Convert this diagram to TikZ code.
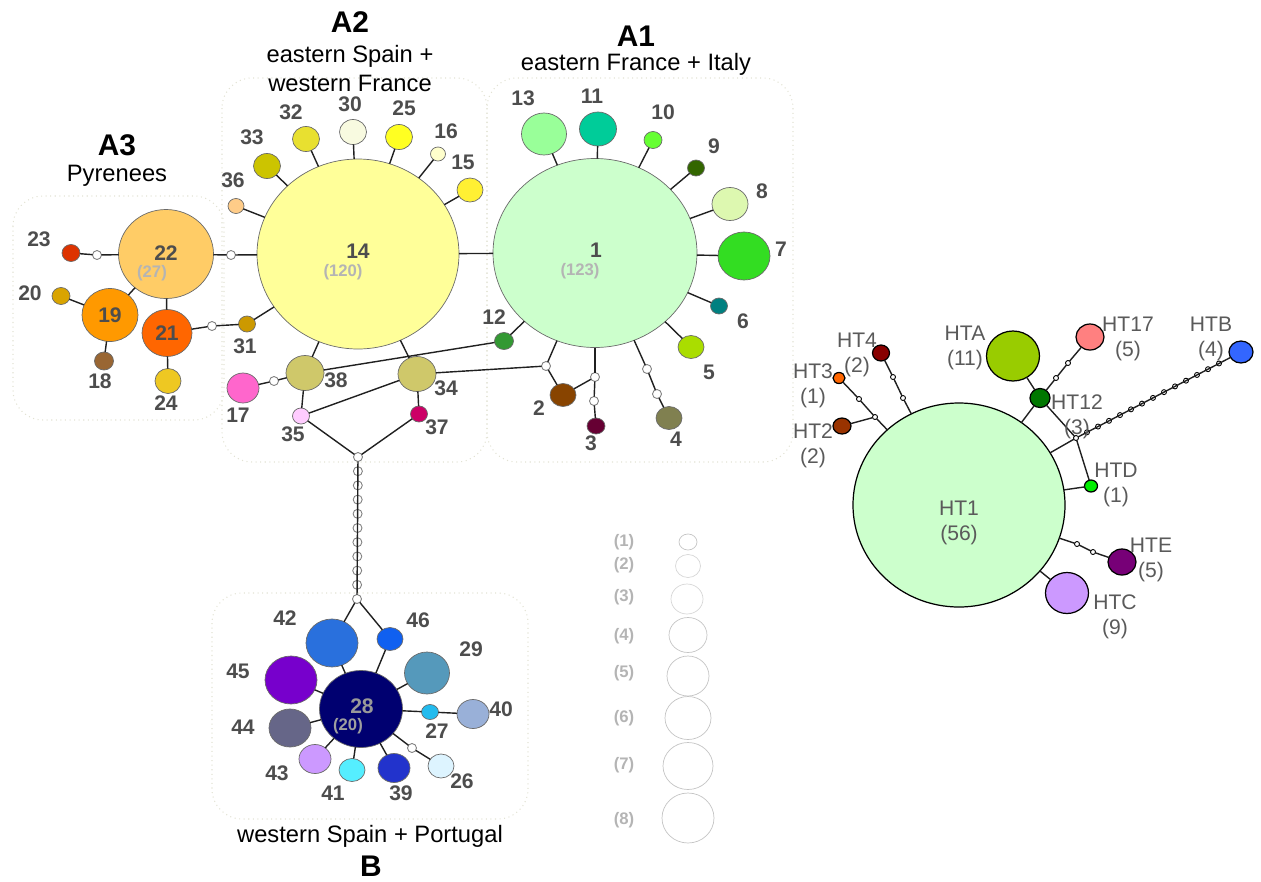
\documentclass[tikz,border=0pt]{standalone}
\usepackage{fontspec}
\setmainfont{Liberation Sans}
\usetikzlibrary{calc,shapes.geometric}

% haplotype colours
\definecolor{numgrey}{HTML}{4D4D4D}
\definecolor{cntgrey}{HTML}{B4B4B4}
\definecolor{htgrey}{HTML}{5A5A5A}
\definecolor{zonecol}{HTML}{E2E2D4}
\definecolor{linkcol}{HTML}{202020}
\definecolor{hapline}{HTML}{6A6A6A}
\definecolor{legline}{HTML}{C4C4C4}
\definecolor{c1}{HTML}{CCFFCC}
\definecolor{c2}{HTML}{884400}
\definecolor{c3}{HTML}{660033}
\definecolor{c4}{HTML}{808050}
\definecolor{c5}{HTML}{AADD00}
\definecolor{c6}{HTML}{008080}
\definecolor{c7}{HTML}{33DD22}
\definecolor{c8}{HTML}{DDF8B0}
\definecolor{c9}{HTML}{336600}
\definecolor{c10}{HTML}{66FF33}
\definecolor{c11}{HTML}{00CC99}
\definecolor{c12}{HTML}{339933}
\definecolor{c13}{HTML}{99FF99}
\definecolor{c14}{HTML}{FFFF99}
\definecolor{c15}{HTML}{FFF033}
\definecolor{c16}{HTML}{FFFFCC}
\definecolor{c17}{HTML}{FF66CC}
\definecolor{c18}{HTML}{996633}
\definecolor{c19}{HTML}{FF9900}
\definecolor{c20}{HTML}{D9A400}
\definecolor{c21}{HTML}{FF6600}
\definecolor{c22}{HTML}{FFCC66}
\definecolor{c23}{HTML}{DD3300}
\definecolor{c24}{HTML}{EEC822}
\definecolor{c25}{HTML}{FFFF22}
\definecolor{c26}{HTML}{DDF4FF}
\definecolor{c27}{HTML}{22BBEE}
\definecolor{c28}{HTML}{000070}
\definecolor{c29}{HTML}{5599BB}
\definecolor{c30}{HTML}{F8FAE0}
\definecolor{c31}{HTML}{CC9900}
\definecolor{c32}{HTML}{E8E030}
\definecolor{c33}{HTML}{CCC400}
\definecolor{c34}{HTML}{CFC86A}
\definecolor{c35}{HTML}{FFCCFF}
\definecolor{c36}{HTML}{FFCC88}
\definecolor{c37}{HTML}{CC0066}
\definecolor{c39}{HTML}{2233CC}
\definecolor{c40}{HTML}{99B0D8}
\definecolor{c41}{HTML}{55EEFF}
\definecolor{c42}{HTML}{2970DD}
\definecolor{c43}{HTML}{CC99FF}
\definecolor{c44}{HTML}{666688}
\definecolor{c45}{HTML}{7700CC}
\definecolor{c46}{HTML}{1060F0}
\definecolor{cHT2}{HTML}{993300}
\definecolor{cHT3}{HTML}{FF6600}
\definecolor{cHT4}{HTML}{880000}
\definecolor{cHTA}{HTML}{99CC00}
\definecolor{cHT12}{HTML}{007700}
\definecolor{cHT17}{HTML}{FF8080}
\definecolor{cHTB}{HTML}{3366FF}
\definecolor{cHTD}{HTML}{00EE00}
\definecolor{cHTE}{HTML}{770077}
\definecolor{cHTC}{HTML}{CC99FF}

\begin{document}
\begin{tikzpicture}[x=0.2mm, y=-0.2mm, every node/.style={inner sep=0pt, outer sep=0pt}]

% Haplotype
\tikzstyle{hap}=[ellipse, draw=hapline, line width=0.4pt]
\tikzstyle{hapk}=[ellipse, draw=black, line width=0.7pt]
% median vectors
\tikzstyle{mv}=[circle, draw=gray, fill=white, line width=0.5pt, minimum size=1.8mm]
\tikzstyle{mvs}=[circle, draw=black, fill=white, line width=0.5pt, minimum size=1mm]
\tikzstyle{link}=[draw=linkcol, line width=0.8pt]
\tikzstyle{zone}=[draw=zonecol, dotted, line width=0.6pt, rounded corners=6mm]
% texts
\tikzstyle{num}=[font=\bfseries\fontsize{12}{14}\selectfont, text=numgrey]
\tikzstyle{cnt}=[font=\bfseries\fontsize{9.5}{11}\selectfont, text=cntgrey]
\tikzstyle{htlbl}=[font=\fontsize{12}{14.2}\selectfont, text=htgrey, align=center]
\tikzstyle{ttl}=[font=\bfseries\fontsize{17}{20}\selectfont]
\tikzstyle{subttl}=[font=\fontsize{13.5}{16}\selectfont]

\useasboundingbox (0,0) rectangle (1261,881);

%%%%%%%%%%%%%%%%%%%%%%%%%%%%%%%%%%%%%%%%%%%%%%%%%%%%%%%%%%%%%%
%
%       Regions
%
\draw [zone] (13,196)  rectangle (224,420);
\draw [zone] (222,78)  rectangle (487,462);
\draw [zone] (487,78)  rectangle (793,462);
\draw [zone] (212,593) rectangle (528,819);

\node (tA3)  [ttl]    at (117,145) {A3};
\node (sA3)  [subttl] at (117,176) {Pyrenees};
\node (tA2)  [ttl]    at (350,22)  {A2};
\node (sA2a) [subttl] at (350,56)  {eastern Spain +};
\node (sA2b) [subttl] at (350,83)  {western France};
\node (tA1)  [ttl]    at (636,36)  {A1};
\node (sA1)  [subttl] at (636,64)  {eastern France + Italy};
\node (sB)   [subttl] at (370,836) {western Spain + Portugal};
\node (tB)   [ttl]    at (371,866) {B};

%%%%%%%%%%%%%%%%%%%%%%%%%%%%%%%%%%%%%%%%%%%%%%%%%%%%%%%%%%%%%%
%
%       A3 Pyrenees
%
\node (n22) [hap, fill=c22, minimum width=19mm,   minimum height=17.8mm] at (166,254) {};
\node (n23) [hap, fill=c23, minimum width=3.6mm,  minimum height=3.4mm]  at (71,253)  {};
\node (n20) [hap, fill=c20, minimum width=3.6mm,  minimum height=3.4mm]  at (61,296)  {};
\node (n19) [hap, fill=c19, minimum width=11.2mm, minimum height=10.6mm] at (110,315) {};
\node (n18) [hap, fill=c18, minimum width=3.8mm,  minimum height=3.6mm]  at (104,361) {};
\node (n21) [hap, fill=c21, minimum width=10mm,   minimum height=9.4mm]  at (167,333) {};
\node (n24) [hap, fill=c24, minimum width=5.2mm,  minimum height=5mm]    at (168,381) {};
\node (n31) [hap, fill=c31, minimum width=3.4mm,  minimum height=3.2mm]  at (247,324) {};
\node (m1) [mv] at (97,255)  {};
\node (m2) [mv] at (212,326) {};
\node (m3) [mv] at (231,255) {};

\node (l22) [num] at (166,253) {22};
\node (k22) [cnt] at (152,273) {(27)};
\node (l19) [num] at (110,315) {19};
\node (l21) [num] at (167,333) {21};
\node (l23) [num] at (39,239)  {23};
\node (l20) [num] at (30,293)  {20};
\node (l18) [num] at (100,381) {18};
\node (l24) [num] at (166,403) {24};
\node (l31) [num] at (245,346) {31};

%%%%%%%%%%%%%%%%%%%%%%%%%%%%%%%%%%%%%%%%%%%%%%%%%%%%%%%%%%%%%%
%
%       A2 eastern Spain + western France
%
\node (n14) [hap, fill=c14, minimum width=40.4mm, minimum height=38mm]  at (358,254) {};
\node (n36) [hap, fill=c36, minimum width=3.2mm,  minimum height=3mm]   at (236,206) {};
\node (n33) [hap, fill=c33, minimum width=5.4mm,  minimum height=5mm]   at (267,166) {};
\node (n32) [hap, fill=c32, minimum width=5.4mm,  minimum height=5mm]   at (306,139) {};
\node (n30) [hap, fill=c30, minimum width=5.4mm,  minimum height=5mm]   at (353,132) {};
\node (n25) [hap, fill=c25, minimum width=5.4mm,  minimum height=5mm]   at (399,137) {};
\node (n16) [hap, fill=c16, minimum width=3mm,    minimum height=2.8mm] at (438,154) {};
\node (n15) [hap, fill=c15, minimum width=5.2mm,  minimum height=4.8mm] at (470,190) {};
\node (n38) [hap, fill=c34, minimum width=7.6mm,  minimum height=7mm]   at (305,373) {};
\node (n34) [hap, fill=c34, minimum width=7.6mm,  minimum height=7mm]   at (417,374) {};
\node (n17) [hap, fill=c17, minimum width=6.4mm,  minimum height=6mm]   at (243,388) {};
\node (n35) [hap, fill=c35, minimum width=3.4mm,  minimum height=3.2mm] at (301,416) {};
\node (n37) [hap, fill=c37, minimum width=3.4mm,  minimum height=3.2mm] at (419,414) {};
\node (m4) [mv] at (274,381) {};
\node (jt) [mv] at (358,457) {};

\node (l14) [num] at (358,251) {14};
\node (k14) [cnt] at (343,272) {(120)};
\node (l36) [num] at (233,180) {36};
\node (l33) [num] at (252,137) {33};
\node (l32) [num] at (291,112) {32};
\node (l30) [num] at (350,104) {30};
\node (l25) [num] at (404,108) {25};
\node (l16) [num] at (446,131) {16};
\node (l15) [num] at (463,162) {15};
\node (l38) [num] at (336,380) {38};
\node (l34) [num] at (446,388) {34};
\node (l17) [num] at (238,415) {17};
\node (l35) [num] at (293,434) {35};
\node (l37) [num] at (437,427) {37};

%%%%%%%%%%%%%%%%%%%%%%%%%%%%%%%%%%%%%%%%%%%%%%%%%%%%%%%%%%%%%%
%
%       A1 eastern France + Italy
%
\node (n1)  [hap, fill=c1,  minimum width=40.8mm, minimum height=37.8mm] at (595,253) {};
\node (n13) [hap, fill=c13, minimum width=9mm,    minimum height=8.4mm]  at (544,134) {};
\node (n11) [hap, fill=c11, minimum width=7.4mm,  minimum height=6.8mm]  at (598,129) {};
\node (n10) [hap, fill=c10, minimum width=3.6mm,  minimum height=3.4mm]  at (653,140) {};
\node (n9)  [hap, fill=c9,  minimum width=3.4mm,  minimum height=3.2mm]  at (696,168) {};
\node (n8)  [hap, fill=c8,  minimum width=7.2mm,  minimum height=6.6mm]  at (730,204) {};
\node (n7)  [hap, fill=c7,  minimum width=10.4mm, minimum height=9.6mm]  at (744,256) {};
\node (n6)  [hap, fill=c6,  minimum width=3.4mm,  minimum height=3.2mm]  at (719,306) {};
\node (n5)  [hap, fill=c5,  minimum width=5.2mm,  minimum height=4.6mm]  at (691,347) {};
\node (n12) [hap, fill=c12, minimum width=3.8mm,  minimum height=3.4mm]  at (504,341) {};
\node (n2)  [hap, fill=c2,  minimum width=5.2mm,  minimum height=4.6mm]  at (563,395) {};
\node (n3)  [hap, fill=c3,  minimum width=3.6mm,  minimum height=3.2mm]  at (596,426) {};
\node (n4)  [hap, fill=c4,  minimum width=5.2mm,  minimum height=4.6mm]  at (669,418) {};
\node (ma) [mv] at (546,366) {};
\node (mb) [mv] at (595,377) {};
\node (mc) [mv] at (594,401) {};
\node (md) [mv] at (647,369) {};
\node (me) [mv] at (657,394) {};

\node (l1)  [num] at (596,250) {1};
\node (k1)  [cnt] at (580,271) {(123)};
\node (l13) [num] at (523,98)  {13};
\node (l11) [num] at (592,96)  {11};
\node (l10) [num] at (663,112) {10};
\node (l9)  [num] at (714,146) {9};
\node (l8)  [num] at (762,191) {8};
\node (l7)  [num] at (781,249) {7};
\node (l6)  [num] at (743,321) {6};
\node (l5)  [num] at (709,372) {5};
\node (l12) [num] at (494,317) {12};
\node (l2)  [num] at (539,408) {2};
\node (l3)  [num] at (591,443) {3};
\node (l4)  [num] at (676,439) {4};

%%%%%%%%%%%%%%%%%%%%%%%%%%%%%%%%%%%%%%%%%%%%%%%%%%%%%%%%%%%%%%
%
%       B western Spain + Portugal
%
\node (jb) [mv] at (357,599) {};
\node (n28) [hap, fill=c28, minimum width=16.6mm, minimum height=15.4mm] at (361,709) {};
\node (n42) [hap, fill=c42, minimum width=10.4mm, minimum height=9.6mm]  at (332,643) {};
\node (n46) [hap, fill=c46, minimum width=5.2mm,  minimum height=4.6mm]  at (390,639) {};
\node (n29) [hap, fill=c29, minimum width=9mm,    minimum height=8.4mm]  at (427,673) {};
\node (n45) [hap, fill=c45, minimum width=10.4mm, minimum height=9.6mm]  at (291,680) {};
\node (n44) [hap, fill=c44, minimum width=8.4mm,  minimum height=7.6mm]  at (290,728) {};
\node (n27) [hap, fill=c27, minimum width=3.4mm,  minimum height=3mm]    at (430,712) {};
\node (n40) [hap, fill=c40, minimum width=6.4mm,  minimum height=5.8mm]  at (473,714) {};
\node (n43) [hap, fill=c43, minimum width=6.4mm,  minimum height=5.8mm]  at (315,759) {};
\node (n41) [hap, fill=c41, minimum width=5.2mm,  minimum height=4.6mm]  at (352,770) {};
\node (n39) [hap, fill=c39, minimum width=6.4mm,  minimum height=5.8mm]  at (394,768) {};
\node (n26) [hap, fill=c26, minimum width=5.2mm,  minimum height=4.8mm]  at (441,766) {};
\node (mf) [mv] at (412,748) {};

\node (l28) [num, text=gray!80] at (362,706) {28};
\node (k28) [cnt, text=gray!75] at (348,726) {(20)};
\node (l42) [num] at (285,618) {42};
\node (l46) [num] at (418,620) {46};
\node (l29) [num] at (471,649) {29};
\node (l45) [num] at (238,671) {45};
\node (l44) [num] at (243,727) {44};
\node (l27) [num] at (437,731) {27};
\node (l40) [num] at (501,709) {40};
\node (l43) [num] at (277,773) {43};
\node (l41) [num] at (333,793) {41};
\node (l39) [num] at (401,793) {39};
\node (l26) [num] at (462,781) {26};

% chain of missing haplotypes A2 -- B
\foreach \k in {1,...,9}
  \node (c\k) [mv] at ($(jt)!\k/10!(jb)$) {};

%%%%%%%%%%%%%%%%%%%%%%%%%%%%%%%%%%%%%%%%%%%%%%%%%%%%%%%%%%%%%%
%
%       Links
%
\draw [link] (n23) -- (m1) -- (n22);
\draw [link] (n22) -- (m3) -- (n14);
\draw [link] (n22) -- (n19);
\draw [link] (n22) -- (n21);
\draw [link] (n20) -- (n19);
\draw [link] (n18) -- (n19);
\draw [link] (n24) -- (n21);
\draw [link] (n21) -- (m2) -- (n31);
\draw [link] (n31) -- (n14);

\draw [link] (n36) -- (n14);
\draw [link] (n33) -- (n14);
\draw [link] (n32) -- (n14);
\draw [link] (n30) -- (n14);
\draw [link] (n25) -- (n14);
\draw [link] (n16) -- (n14);
\draw [link] (n15) -- (n14);
\draw [link] (n14) -- (n1);
\draw [link] (n14) -- (n38);
\draw [link] (n14) -- (n34);
\draw [link] (n17) -- (m4) -- (n38);
\draw [link] (n38) -- (n35);
\draw [link] (n38) -- (n12);
\draw [link] (n35) -- (n34);
\draw [link] (n34) -- (n37);
\draw [link] (n34) -- (ma);
\draw [link] (n35) -- (jt);
\draw [link] (n37) -- (jt);
\draw [link] (jt) foreach \k in {1,...,9} { -- (c\k) } -- (jb);

\draw [link] (n13) -- (n1);
\draw [link] (n11) -- (n1);
\draw [link] (n10) -- (n1);
\draw [link] (n9)  -- (n1);
\draw [link] (n8)  -- (n1);
\draw [link] (n7)  -- (n1);
\draw [link] (n6)  -- (n1);
\draw [link] (n5)  -- (n1);
\draw [link] (n12) -- (n1);
\draw [link] (ma)  -- (n1);
\draw [link] (ma)  -- (n2);
\draw [link] (n2)  -- (mb);
\draw [link] (mb)  -- (n1);
\draw [link] (mb)  -- (mc) -- (n3);
\draw [link] (n1)  -- (md) -- (me) -- (n4);

\draw [link] (jb)  -- (n42);
\draw [link] (jb)  -- (n46);
\draw [link] (n46) -- (n28);
\draw [link] (n42) -- (n28);
\draw [link] (n45) -- (n28);
\draw [link] (n29) -- (n28);
\draw [link] (n44) -- (n28);
\draw [link] (n43) -- (n28);
\draw [link] (n41) -- (n28);
\draw [link] (n39) -- (n28);
\draw [link] (n28) -- (n27) -- (n40);
\draw [link] (n28) -- (mf) -- (n26);

%%%%%%%%%%%%%%%%%%%%%%%%%%%%%%%%%%%%%%%%%%%%%%%%%%%%%%%%%%%%%%
%
%       Legend
%
\node (g1) [ellipse, draw=legline, minimum width=3.6mm,  minimum height=3.2mm] at (688,542) {};
\node (g2) [ellipse, draw=legline!70, minimum width=5mm,  minimum height=4.6mm] at (688,566) {};
\node (g3) [ellipse, draw=legline!70, minimum width=6.4mm, minimum height=6mm]  at (687,599) {};
\node (g4) [ellipse, draw=legline, minimum width=7.6mm,  minimum height=7mm]   at (688,635) {};
\node (g5) [ellipse, draw=legline, minimum width=8.4mm,  minimum height=8mm]   at (688,676) {};
\node (g6) [ellipse, draw=legline, minimum width=9.2mm,  minimum height=8.6mm] at (688,718) {};
\node (g7) [ellipse, draw=legline, minimum width=10mm,   minimum height=9.4mm] at (688,766) {};
\node (g8) [ellipse, draw=legline, minimum width=10.4mm, minimum height=10mm]  at (688,818) {};
\node (gl1) [cnt] at (624,542) {(1)};
\node (gl2) [cnt] at (624,565) {(2)};
\node (gl3) [cnt] at (624,597) {(3)};
\node (gl4) [cnt] at (624,636) {(4)};
\node (gl5) [cnt] at (624,673) {(5)};
\node (gl6) [cnt] at (624,718) {(6)};
\node (gl7) [cnt] at (624,765) {(7)};
\node (gl8) [cnt] at (624,820) {(8)};

%%%%%%%%%%%%%%%%%%%%%%%%%%%%%%%%%%%%%%%%%%%%%%%%%%%%%%%%%%%%%%
%
%       HT network
%
\node (HT1)  [hapk, fill=c1,    minimum width=42.4mm, minimum height=40.8mm] at (959,505)  {};
\node (HT3)  [hapk, fill=cHT3,  minimum width=2.4mm,  minimum height=2.2mm]  at (839,378)  {};
\node (HT4)  [hapk, fill=cHT4,  minimum width=3.4mm,  minimum height=3.2mm]  at (881,353)  {};
\node (HT2)  [hapk, fill=cHT2,  minimum width=3.6mm,  minimum height=3.2mm]  at (842,426)  {};
\node (HTA)  [hapk, fill=cHTA,  minimum width=10.6mm, minimum height=10mm]   at (1013,356) {};
\node (HT12) [hapk, fill=cHT12, minimum width=4mm,    minimum height=3.8mm]  at (1040,398) {};
\node (HT17) [hapk, fill=cHT17, minimum width=5.6mm,  minimum height=5.2mm]  at (1090,337) {};
\node (HTB)  [hapk, fill=cHTB,  minimum width=4.8mm,  minimum height=4.4mm]  at (1241,352) {};
\node (HTD)  [hapk, fill=cHTD,  minimum width=2.6mm,  minimum height=2.4mm]  at (1091,486) {};
\node (HTE)  [hapk, fill=cHTE,  minimum width=5.6mm,  minimum height=5.2mm]  at (1122,562) {};
\node (HTC)  [hapk, fill=cHTC,  minimum width=8.6mm,  minimum height=8.2mm]  at (1067,593) {};
\node (r1) [mvs] at (859,399)  {};
\node (r2) [mvs] at (875,417)  {};
\node (r3) [mvs] at (893,377)  {};
\node (r4) [mvs] at (903,398)  {};
\node (r5) [mvs] at (1056,378) {};
\node (r6) [mvs] at (1068,363) {};
\node (J)  [mvs] at (1076,438) {};
\node (r7) [mvs] at (1077,544) {};
\node (r8) [mvs] at (1093,552) {};
\foreach \k in {1,...,13}
  \node (d\k) [mvs] at ($(J)!\k/15!(HTB)$) {};

\draw [link] (HT3) -- (r1) -- (r2) -- (HT1);
\draw [link] (HT2) -- (r2);
\draw [link] (HT4) -- (r3) -- (r4) -- (HT1);
\draw [link] (HTA) -- (HT12) -- (HT1);
\draw [link] (HT12) -- (r5) -- (r6) -- (HT17);
\draw [link] (HT12) -- (J) -- (HTD);
\draw [link] (HT1) -- (J);
\draw [link] (J) foreach \k in {1,...,13} { -- (d\k) } -- (HTB);
\draw [link] (HT1) -- (HTD);
\draw [link] (HT1) -- (r7) -- (r8) -- (HTE);
\draw [link] (HT1) -- (HTC);

\node (tHT1)  [htlbl] at (959,523)  {HT1\\(56)};
\node (tHT3)  [htlbl] at (813,386)  {HT3\\(1)};
\node (tHT4)  [htlbl] at (857,355)  {HT4\\(2)};
\node (tHT2)  [htlbl] at (813,446)  {HT2\\(2)};
\node (tHTA)  [htlbl] at (965,348)  {HTA\\(11)};
\node (tHT12) [htlbl] at (1077,417) {HT12\\(3)};
\node (tHT17) [htlbl] at (1128,339) {HT17\\(5)};
\node (tHTB)  [htlbl] at (1211,339) {HTB\\(4)};
\node (tHTD)  [htlbl] at (1116,485) {HTD\\(1)};
\node (tHTE)  [htlbl] at (1151,560) {HTE\\(5)};
\node (tHTC)  [htlbl] at (1115,617) {HTC\\(9)};

\end{tikzpicture}
\end{document}
